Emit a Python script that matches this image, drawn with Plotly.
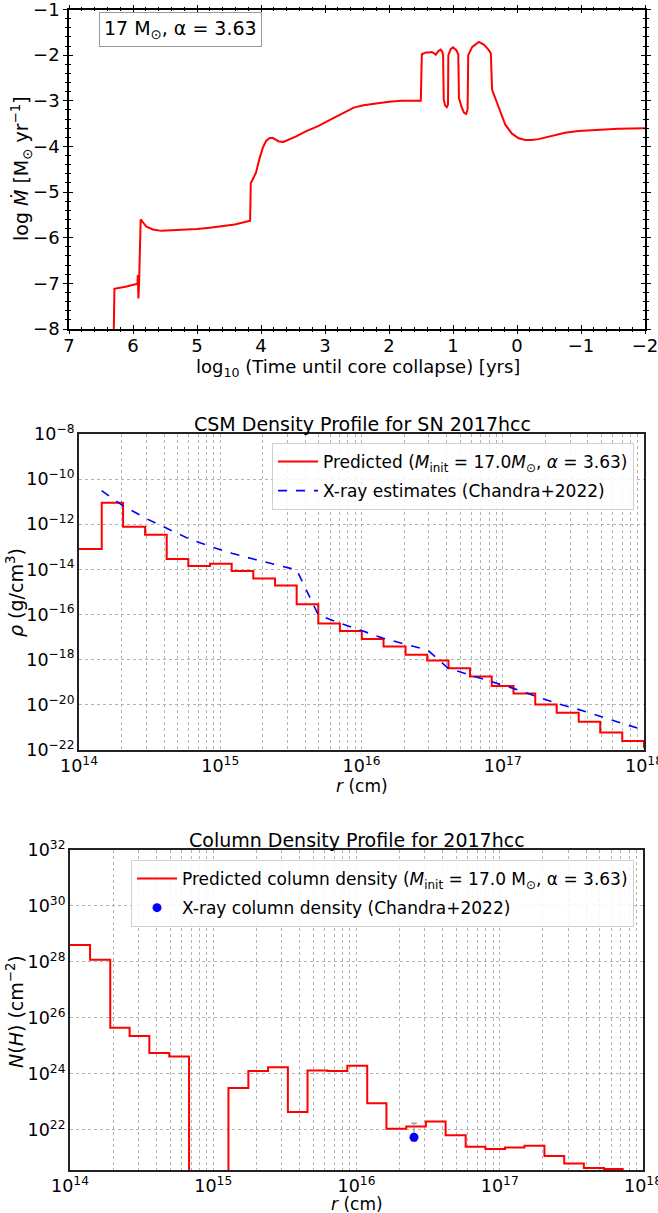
import plotly.graph_objects as go

W, H = 658, 1213
FONT = "DejaVu Sans"

# ---------------- Panel 1: mass-loss history ----------------
log_t = [6.30, 6.29, 6.10, 5.93, 5.925, 5.92, 5.915, 5.905, 5.88, 5.79, 5.69, 5.56,
         5.33, 5.00, 4.80, 4.41, 4.17, 4.16, 4.14, 4.08, 4.02, 3.97, 3.92, 3.87, 3.82,
         3.77, 3.72, 3.65, 3.58, 3.45, 3.30, 3.10, 2.90, 2.70, 2.55, 2.40, 2.31, 2.15,
         2.00, 1.80, 1.503, 1.487, 1.451, 1.425, 1.373, 1.332, 1.295, 1.269, 1.228,
         1.192, 1.166, 1.155, 1.145, 1.124, 1.098, 1.078, 1.073, 1.036, 1.000, 0.948,
         0.917, 0.907, 0.865, 0.829, 0.793, 0.772, 0.762, 0.699, 0.596, 0.518, 0.440,
         0.409, 0.389, 0.311, 0.233, 0.181, 0.078, -0.026, -0.130, -0.233, -0.337,
         -0.544, -0.751, -0.959, -1.244, -1.580, -2.0]
log_mdot = [-8.0, -7.12, -7.07, -7.01, -6.82, -7.00, -7.33, -7.00, -5.60, -5.76, -5.82,
            -5.85, -5.84, -5.81, -5.78, -5.71, -5.63, -4.80, -4.75, -4.58, -4.25, -4.02,
            -3.88, -3.82, -3.81, -3.85, -3.89, -3.90, -3.86, -3.78, -3.67, -3.55, -3.40,
            -3.25, -3.15, -3.10, -3.08, -3.05, -3.02, -3.00, -3.00, -1.98, -1.96, -1.94,
            -1.94, -1.93, -1.96, -1.99, -1.91, -1.88, -1.93, -2.00, -2.97, -3.10, -3.14,
            -3.08, -2.00, -1.87, -1.83, -1.89, -1.99, -2.94, -3.14, -3.26, -3.29, -3.19,
            -2.00, -1.82, -1.71, -1.77, -1.89, -1.96, -2.76, -3.05, -3.37, -3.53, -3.72,
            -3.82, -3.86, -3.86, -3.84, -3.77, -3.70, -3.66, -3.63, -3.61, -3.60]

# ---------------- Panel 2: CSM density ----------------
rho_edge_log = [14.0, 14.161, 14.312, 14.468, 14.621, 14.774, 14.928, 15.081, 15.234,
                15.388, 15.541, 15.694, 15.847, 16.002, 16.156, 16.312, 16.465, 16.616,
                16.768, 16.922, 17.076, 17.230, 17.382, 17.538, 17.690, 17.846, 18.0]
rho_pred_log = [-13.10, -11.05, -12.11, -12.46, -13.54, -13.85, -13.75, -14.07, -14.40,
                -14.71, -15.54, -16.40, -16.73, -17.08, -17.42, -17.78, -18.03, -18.38,
                -18.74, -19.16, -19.50, -19.98, -20.35, -20.75, -21.23, -21.60, -21.92]
xray_r_log = [14.160, 14.307, 14.480, 14.621, 14.774, 14.927, 15.081, 15.234, 15.387,
              15.541, 15.694, 15.847, 16.001, 16.154, 16.308, 16.468, 16.614, 16.768,
              16.933, 17.074, 17.228, 17.381, 17.534, 17.699, 17.852, 17.994]
xray_rho_log = [-10.51, -11.16, -11.76, -12.18, -12.63, -12.98, -13.28, -13.54, -13.77,
                -14.02, -16.01, -16.38, -16.71, -17.05, -17.31, -17.57, -18.38, -18.67,
                -19.01, -19.27, -19.61, -19.93, -20.20, -20.52, -20.82, -21.11]

# ---------------- Panel 3: column density ----------------
nh_edge_log = [14.0, 14.140, 14.281, 14.416, 14.554, 14.693, 14.831, 15.106, 15.245,
               15.383, 15.521, 15.658, 15.797, 15.936, 16.075, 16.209, 16.347, 16.484,
               16.622, 16.762, 16.900, 17.037, 17.172, 17.312, 17.450, 17.587, 17.728,
               17.865]
nh_pred_log = [28.61, 28.08, 25.65, 25.36, 24.75, 24.62, 18.0, 23.50, 24.11, 24.24,
               22.64, 24.12, 24.11, 24.29, 22.95, 22.04, 22.12, 22.30, 21.81, 21.40,
               21.32, 21.37, 21.44, 21.07, 20.80, 20.64, 20.61, 20.61]
nh_obs_r = [2.52e16]
nh_obs = [5.5e21]
nh_obs_err_plus = [1.2e22]
nh_obs_err_minus = [1.5e21]


def pxx(x):
    return x / W


def pyy(y):
    return 1 - y / H


RED = "#ff0000"
BLUE = "#0000ff"
GRID = "#b4b4b4"

fig = go.Figure()

# Panel 1
fig.add_trace(go.Scatter(x=log_t, y=log_mdot, mode="lines",
                         line=dict(color=RED, width=2), showlegend=False,
                         xaxis="x", yaxis="y"))
# invisible trace for overlay tick axes
fig.add_trace(go.Scatter(x=[7], y=[-8], mode="markers", marker=dict(opacity=0),
                         showlegend=False, hoverinfo="skip", xaxis="x4", yaxis="y4"))

# Panel 2
fig.add_trace(go.Scatter(x=[10 ** v for v in rho_edge_log],
                         y=[10 ** v for v in rho_pred_log], mode="lines",
                         line=dict(color=RED, width=2, shape="hv"),
                         name="Predicted (<i>M</i><sub>init</sub> = 17.0<i>M</i><sub>⊙</sub>, <i>α</i> = 3.63)",
                         legend="legend", legendgroup="a", xaxis="x2", yaxis="y2"))
fig.add_trace(go.Scatter(x=[10 ** v for v in xray_r_log],
                         y=[10 ** v for v in xray_rho_log], mode="lines",
                         line=dict(color=BLUE, width=1.6, dash="dash"),
                         name="X-ray estimates (Chandra+2022)",
                         legend="legend", legendgroup="b", xaxis="x2", yaxis="y2"))

# Panel 3
fig.add_trace(go.Scatter(x=[10 ** v for v in nh_edge_log],
                         y=[10 ** v for v in nh_pred_log], mode="lines",
                         line=dict(color=RED, width=2, shape="hv"),
                         name="Predicted column density (<i>M</i><sub>init</sub> = 17.0 M<sub>⊙</sub>, α = 3.63)",
                         legend="legend2", legendgroup="c", xaxis="x3", yaxis="y3"))
fig.add_trace(go.Scatter(x=nh_obs_r, y=nh_obs, mode="markers",
                         marker=dict(color=BLUE, size=9),
                         error_y=dict(type="data", symmetric=False, array=nh_obs_err_plus,
                                      arrayminus=nh_obs_err_minus, color="gray",
                                      thickness=1, width=3),
                         name="X-ray column density (Chandra+2022)",
                         legend="legend2", legendgroup="d", xaxis="x3", yaxis="y3"))

tick1 = dict(linecolor="black", linewidth=1.5, showgrid=False, zeroline=False,
             automargin=False, ticklabeloverflow="allow",
             tickfont=dict(family=FONT, size=18, color="black"))

logx = dict(type="log", range=[14, 18], dtick=1, exponentformat="power",
            showline=True, linecolor="#222", linewidth=1.5, mirror=True,
            ticks="", ticklen=0, zeroline=False, automargin=False,
            ticklabeloverflow="allow",
            showgrid=True, gridcolor=GRID, griddash="dot", gridwidth=1,
            minor=dict(dtick="D1", showgrid=True, gridcolor=GRID, griddash="dot",
                       gridwidth=1, ticks=""),
            tickfont=dict(family=FONT, size=14, color="black"))

logy = dict(type="log", dtick=2, exponentformat="power",
            showline=True, linecolor="#222", linewidth=1.5, mirror=True,
            ticks="", ticklen=0, zeroline=False, automargin=False,
            ticklabeloverflow="allow",
            showgrid=True, gridcolor=GRID, griddash="dot", gridwidth=1,
            tickfont=dict(family=FONT, size=14, color="black"))


def overlay(direction):
    return dict(ticks=direction, ticklen=4, tickwidth=1.3, tickcolor="black",
                mirror="ticks", showline=False, showticklabels=False,
                showgrid=False, zeroline=False, automargin=False,
                minor=dict(dtick=0.2, ticks=direction, ticklen=2, tickwidth=1,
                           tickcolor="black"))


fig.update_layout(
    width=W, height=H, margin=dict(l=0, r=0, t=0, b=0, autoexpand=False),
    paper_bgcolor="white", plot_bgcolor="white",
    font=dict(family=FONT, color="black"),
    xaxis=dict(domain=[pxx(69), pxx(645)], anchor="y", range=[7, -2], dtick=1,
               ticks="inside", ticklen=4, tickwidth=1.3, tickcolor="black",
               mirror="ticks", showline=True,
               minor=dict(dtick=0.2, ticks="inside", ticklen=2, tickwidth=1, tickcolor="black"),
               **tick1),
    yaxis=dict(domain=[pyy(329), pyy(9.5)], anchor="x", range=[-8, -1], dtick=1,
               ticks="outside", ticklen=4, tickwidth=1.3, tickcolor="black",
               mirror="ticks", showline=True,
               minor=dict(dtick=0.2, ticks="outside", ticklen=2, tickwidth=1, tickcolor="black"),
               **tick1),
    xaxis4=dict(overlaying="x", anchor="y4", range=[7, -2], dtick=1, side="bottom",
                **overlay("outside")),
    yaxis4=dict(overlaying="y", anchor="x4", range=[-8, -1], dtick=1, side="left",
                **overlay("inside")),
    xaxis2=dict(domain=[pxx(79), pxx(644)], anchor="y2", **logx),
    yaxis2=dict(domain=[pyy(750), pyy(434)], anchor="x2", range=[-22, -8], **logy),
    xaxis3=dict(domain=[pxx(70), pxx(643)], anchor="y3", **logx),
    yaxis3=dict(domain=[pyy(1170), pyy(850)], anchor="x3", range=[20.57, 32], **logy),
    legend=dict(x=pxx(634), y=pyy(443), xanchor="right", yanchor="top",
                bgcolor="rgba(255,255,255,0.85)", bordercolor="#d0d0d0", borderwidth=1,
                font=dict(family=FONT, size=17, color="black"), tracegroupgap=4,
                itemwidth=40),
    legend2=dict(x=pxx(634), y=pyy(860), xanchor="right", yanchor="top",
                 bgcolor="rgba(255,255,255,0.85)", bordercolor="#d0d0d0", borderwidth=1,
                 font=dict(family=FONT, size=17, color="black"), tracegroupgap=4,
                 itemwidth=40),
)

ann = []


def text(x, y, s, size=18, angle=0, **kw):
    ann.append(dict(x=pxx(x), y=pyy(y), xref="paper", yref="paper", text=s,
                    showarrow=False, textangle=angle, xanchor="center", yanchor="middle",
                    font=dict(family=FONT, size=size, color="black"), **kw))


text(180, 30, "17 M<sub>⊙</sub>, α = 3.63", size=19, bordercolor="#999999",
     borderwidth=1, borderpad=4, bgcolor="white")
text(358, 368, "log<sub>10</sub> (Time until core collapse) [yrs]", size=18)
text(21, 169, "log <i>Ṁ</i> [M<sub>⊙</sub> yr<sup>−1</sup>]", size=19, angle=-90)

text(362, 424, "CSM Density Profile for SN 2017hcc", size=19)
text(362, 786, "<i>r</i> (cm)", size=17)
text(15, 593, "<i>ρ</i> (g/cm<sup>3</sup>)", size=19, angle=-90)

text(357, 840, "Column Density Profile for 2017hcc", size=19)
text(357, 1204, "<i>r</i> (cm)", size=17)
text(15, 1012, "<i>N</i>(<i>H</i>) (cm<sup>−2</sup>)", size=19, angle=-90)

fig.update_layout(annotations=ann)

fig.write_html("out.html", config={"displayModeBar": False},
               post_script="document.body.style.margin='0px';document.body.style.overflow='hidden';")
